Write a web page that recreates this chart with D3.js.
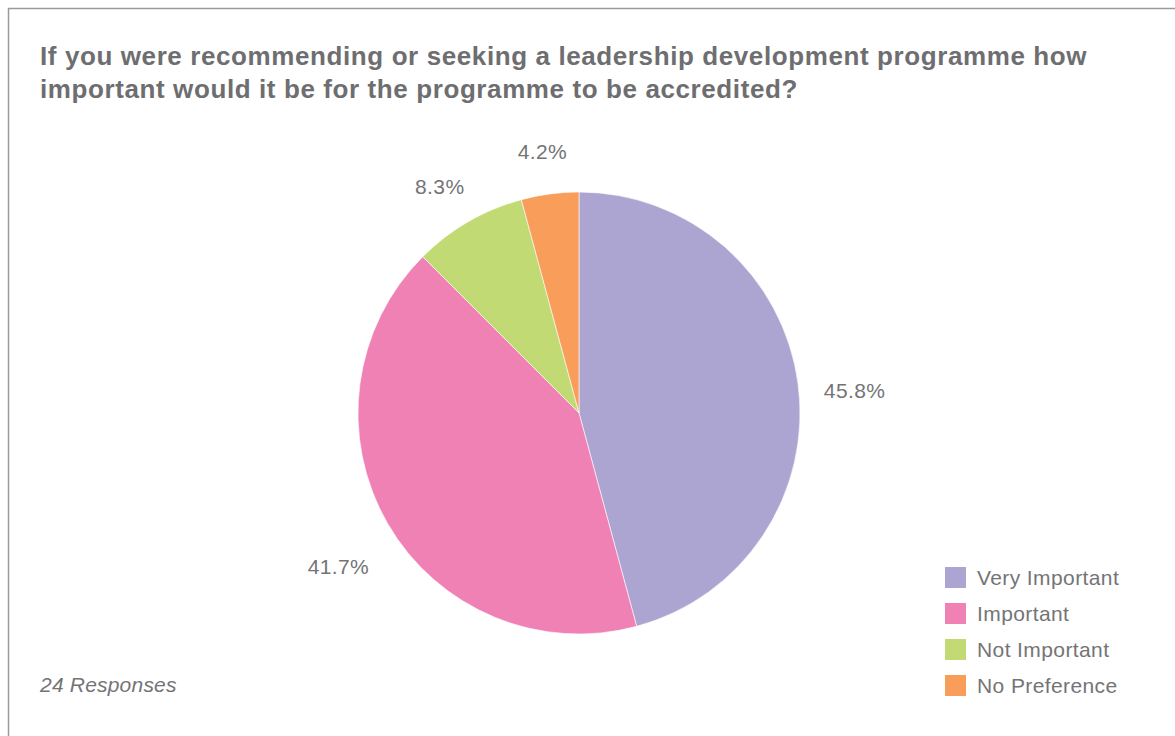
<!DOCTYPE html>
<html>
<head>
<meta charset="utf-8">
<script src="https://cdn.jsdelivr.net/npm/d3@7"></script>
<style>
  html, body { margin: 0; padding: 0; background: #fff; }
  svg { display: block; }
</style>
</head>
<body>
<svg id="chart" width="1175" height="736"></svg>
<script>
const categories = ["Very Important", "Important", "Not Important", "No Preference"];
const values = [45.8, 41.7, 8.3, 4.2];
const valueLabels = ["45.8%", "41.7%", "8.3%", "4.2%"];
const colors = ["#ada5d1", "#f081b4", "#c2da73", "#f89d5a"];
const titleLines = [
  "If you were recommending or seeking a leadership development programme how",
  "important would it be for the programme to be accredited?"
];
const footnote = "24 Responses";

const svg = d3.select("#chart");
const font = "'Liberation Sans', Arial, Helvetica, sans-serif";

// frame
svg.append("rect")
  .attr("x", 8.5).attr("y", 8.5)
  .attr("width", 1180).attr("height", 740)
  .attr("fill", "none").attr("stroke", "#9a9a9a").attr("stroke-width", 1.5);

// title
svg.append("text")
  .attr("x", 40).attr("y", 65)
  .attr("font-family", font).attr("font-weight", "bold")
  .attr("font-size", 26).attr("letter-spacing", 0.6).attr("fill", "#6e6e71")
  .selectAll("tspan").data(titleLines).join("tspan")
  .attr("x", 40).attr("dy", (d, i) => i === 0 ? 0 : 33)
  .text(d => d);

// pie
const cx = 579, cy = 413, r = 221;
const pie = d3.pie().sort(null).value(d => d)(values);
const arc = d3.arc().innerRadius(0).outerRadius(r);
const labelArc = d3.arc().innerRadius(278).outerRadius(278);
const color = d3.scaleOrdinal().domain(categories).range(colors);

const g = svg.append("g").attr("transform", `translate(${cx},${cy})`);
g.selectAll("path").data(pie).join("path")
  .attr("d", arc)
  .attr("fill", (d, i) => color(categories[i]))
  .attr("stroke", "#ffffff").attr("stroke-width", 0.6);

g.selectAll("text.lbl").data(pie).join("text")
  .attr("class", "lbl")
  .attr("transform", d => `translate(${labelArc.centroid(d)})`)
  .attr("dy", 14)
  .attr("text-anchor", "middle").attr("dominant-baseline", "central")
  .attr("font-family", font).attr("font-size", 21).attr("letter-spacing", 0.4)
  .attr("fill", "#747476")
  .text((d, i) => valueLabels[i]);

// legend
const legend = svg.append("g").attr("transform", "translate(945,567)");
const items = legend.selectAll("g").data(categories).join("g")
  .attr("transform", (d, i) => `translate(0,${i * 36})`);
items.append("rect").attr("width", 21).attr("height", 21)
  .attr("fill", d => color(d));
items.append("text").attr("x", 32).attr("y", 10.5)
  .attr("dominant-baseline", "central")
  .attr("font-family", font).attr("font-size", 21).attr("letter-spacing", 0.4)
  .attr("fill", "#747476")
  .text(d => d);

// footnote
svg.append("text").attr("x", 40).attr("y", 692)
  .attr("font-family", font).attr("font-style", "italic")
  .attr("font-size", 21).attr("letter-spacing", 0.2).attr("fill", "#747476")
  .text(footnote);
</script>
</body>
</html>
